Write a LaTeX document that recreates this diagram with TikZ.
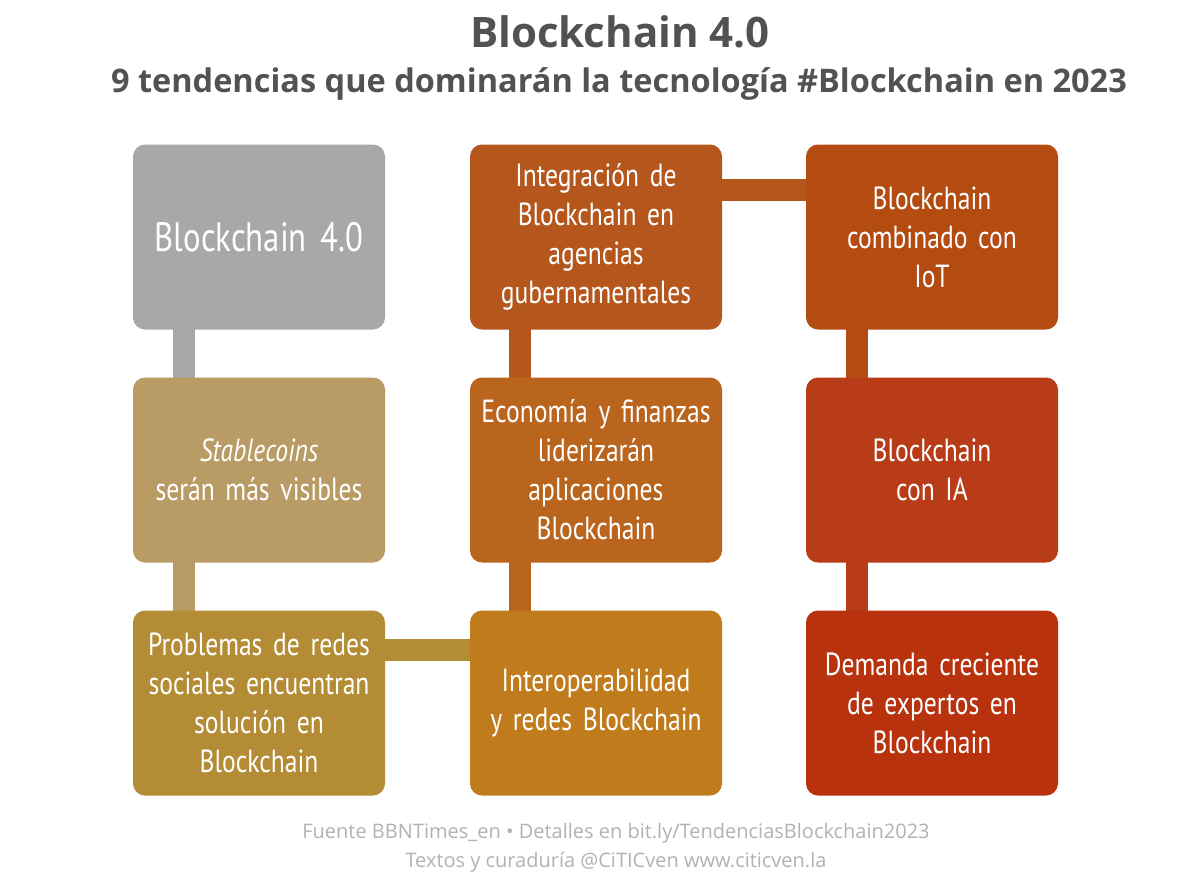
\documentclass[tikz,border=0pt]{standalone}
\usepackage{fontspec}
\setmainfont{Open Sans}
\newfontfamily\boxfont[FakeStretch=0.8]{PT Sans}
\begin{document}
\begin{tikzpicture}[x=1pt,y=-1pt,
 bx/.style={rounded corners=12pt,minimum width=252pt,minimum height=185pt,text width=250pt,align=center,text=white,font=\boxfont\fontsize{32}{39}\selectfont,inner sep=0pt},
 bar/.style={line width=22pt}]
\useasboundingbox[fill=white] (0,0) rectangle (1200,884);
\node[font=\bfseries\fontsize{42}{46}\selectfont,text=black!68] (t) at (620,32) {Blockchain 4.0};
\node[font=\bfseries\fontsize{32.5}{36}\selectfont,text=black!68] (s) at (619,84) {9 tendencias que dominarán la tecnología \#Blockchain en 2023};
\definecolor{c1}{HTML}{A8A8A8}\definecolor{c2}{HTML}{B89B65}\definecolor{c3}{HTML}{B48C35}
\definecolor{c4}{HTML}{B5561C}\definecolor{c5}{HTML}{B9651E}\definecolor{c6}{HTML}{C07C1C}
\definecolor{c7}{HTML}{B44C12}\definecolor{c8}{HTML}{B83C18}\definecolor{c9}{HTML}{B8320E}
\coordinate (a) at (259,237);\coordinate (b) at (259,470);\coordinate (c) at (259,703);
\coordinate (d) at (596,237);\coordinate (e) at (596,470);\coordinate (f) at (596,703);
\coordinate (g) at (932,237);\coordinate (h) at (932,470);\coordinate (i) at (932,703);
\coordinate (p1) at (184,237);\coordinate (p2) at (184,703);
\coordinate (q1) at (520,237);\coordinate (q2) at (520,703);
\coordinate (r1) at (857,237);\coordinate (r2) at (857,703);
\coordinate (u1) at (596,190);\coordinate (u2) at (932,190);
\coordinate (v1) at (259,650);\coordinate (v2) at (596,650);
\draw[bar,c1] (p1)--(184,470); \draw[bar,c2] (184,470)--(p2); \draw[bar,c3] (v1)--(v2);
\draw[bar,c5] (q2)--(520,470); \draw[bar,c4] (520,470)--(q1); \draw[bar,c4] (u1)--(u2);
\draw[bar,c7] (r1)--(857,470); \draw[bar,c8] (857,470)--(r2);
\node[bx,fill=c1,font=\boxfont\fontsize{41}{46}\selectfont] (n1) at (a) {Blockchain 4.0};
\node[bx,fill=c2] (n2) at (b) {\textit{Stablecoins}\\serán más visibles};
\node[bx,fill=c3] (n3) at (c) {Problemas de redes\\sociales encuentran\\solución en\\Blockchain};
\node[bx,fill=c4] (n4) at (d) {Integración de\\Blockchain en\\agencias\\gubernamentales};
\node[bx,fill=c5] (n5) at (e) {Economía y finanzas\\liderizarán\\aplicaciones\\Blockchain};
\node[bx,fill=c6] (n6) at (f) {Interoperabilidad\\y redes Blockchain};
\node[bx,fill=c7] (n7) at (g) {Blockchain\\combinado con\\IoT};
\node[bx,fill=c8] (n8) at (h) {Blockchain\\con IA};
\node[bx,fill=c9] (n9) at (i) {Demanda creciente\\de expertos en\\Blockchain};
\node[font=\fontsize{20}{29}\selectfont,text=black!30,align=center] (f1) at (616,848) {Fuente BBNTimes\_en • Detalles en bit.ly/TendenciasBlockchain2023\\Textos y curaduría @CiTICven www.citicven.la};
\end{tikzpicture}
\end{document}
